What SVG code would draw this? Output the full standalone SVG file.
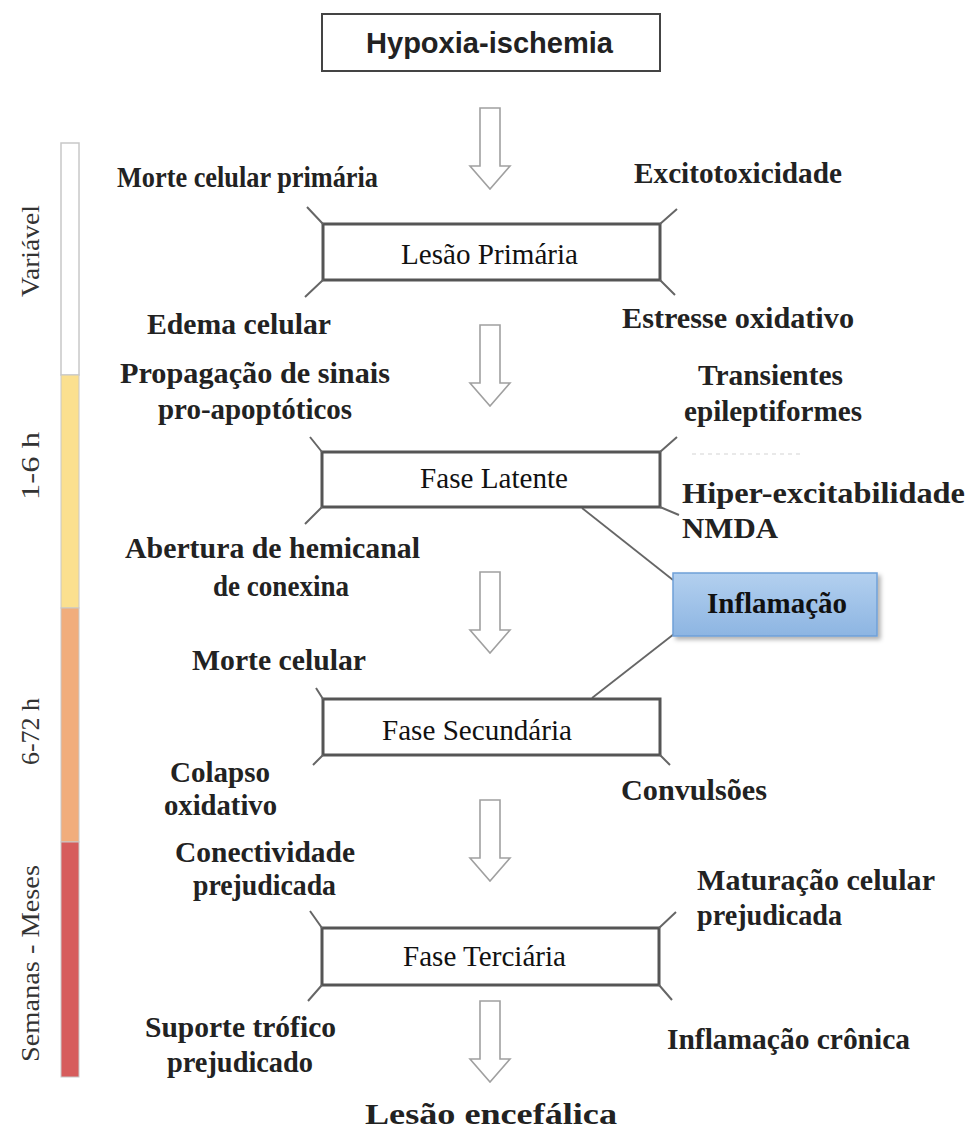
<svg xmlns="http://www.w3.org/2000/svg" width="967" height="1133" viewBox="0 0 967 1133">
<style>
.lbl{font-family:"Liberation Serif","Times New Roman",serif;font-weight:bold;font-size:30px;fill:#222;}
.box{fill:#fff;stroke:#555;stroke-width:3;}
.btxt{font-family:"Liberation Serif","Times New Roman",serif;font-size:30px;fill:#111;}
.tick{stroke:#666;stroke-width:2;fill:none;}
.arr{fill:#fff;stroke:#a0a0a0;stroke-width:1.6;}
.con{stroke:#666;stroke-width:1.8;fill:none;}
.tl{font-family:"Liberation Serif","Times New Roman",serif;font-size:26px;fill:#333;}
</style>
<defs>
<path id="darrow" d="M-10,0 H10 V58 H20 L0,81 L-20,58 H-10 Z"/>
<linearGradient id="blue" x1="0" y1="0" x2="0" y2="1">
<stop offset="0" stop-color="#b3d0ef"/>
<stop offset="1" stop-color="#8db5e2"/>
</linearGradient>
<filter id="sh" x="-10%" y="-10%" width="130%" height="140%">
<feDropShadow dx="3" dy="3" stdDeviation="2" flood-color="#000" flood-opacity="0.3"/>
</filter>
</defs>

<g id="timeline">
<rect x="61" y="143" width="18" height="232" fill="#fff" stroke="#c8c8c8" stroke-width="1.5"/>
<rect x="61" y="375" width="18" height="233" fill="#fbe08f" stroke="#c8c8c8" stroke-width="1"/>
<rect x="61" y="608" width="18" height="234" fill="#f1ad7c" stroke="#c8c8c8" stroke-width="1"/>
<rect x="61" y="842" width="18" height="235" fill="#d65c5c" stroke="#c8c8c8" stroke-width="1"/>
<text class="tl" transform="translate(39,297) rotate(-90)" textLength="92" lengthAdjust="spacingAndGlyphs">Variável</text>
<text class="tl" transform="translate(39,500) rotate(-90)" textLength="68" lengthAdjust="spacingAndGlyphs">1-6 h</text>
<text class="tl" transform="translate(39,765) rotate(-90)" textLength="67" lengthAdjust="spacingAndGlyphs">6-72 h</text>
<text class="tl" transform="translate(39,1062) rotate(-90)" textLength="197" lengthAdjust="spacingAndGlyphs">Semanas - Meses</text>
</g>

<g id="hypoxia">
<rect x="322" y="14" width="338" height="57" fill="#fff" stroke="#444" stroke-width="2"/>
<text x="366" y="53" font-family="Liberation Sans, Arial, sans-serif" font-weight="bold" font-size="29" fill="#222" textLength="247" lengthAdjust="spacingAndGlyphs">Hypoxia-ischemia</text>
</g>

<g id="arrows">
<use href="#darrow" class="arr" x="490" y="108"/>
<use href="#darrow" class="arr" x="490" y="325"/>
<use href="#darrow" class="arr" x="490" y="572"/>
<use href="#darrow" class="arr" x="490" y="800"/>
<use href="#darrow" class="arr" x="490" y="1001"/>
</g>

<g id="connectors">
<line class="con" x1="582" y1="508" x2="673" y2="580"/>
<line class="con" x1="674" y1="634" x2="592" y2="698"/>
<line x1="692" y1="454" x2="803" y2="454" stroke="#e2e2e2" stroke-width="1.5" stroke-dasharray="4,4"/>
</g>

<g id="lesao-primaria">
<rect class="box" x="323" y="224" width="337" height="56"/>
<path class="tick" d="M307,207 L323,224 M305,297 L323,280 M660,224 L677,209 M660,280 L675,295"/>
<text class="btxt" x="401" y="264" textLength="177" lengthAdjust="spacingAndGlyphs">Lesão Primária</text>
</g>

<g id="fase-latente">
<rect class="box" x="322" y="452" width="338" height="55"/>
<path class="tick" d="M310,437 L322,452 M305,524 L322,507 M660,452 L677,437 M660,507 L679,515"/>
<text class="btxt" x="420" y="488" textLength="148" lengthAdjust="spacingAndGlyphs">Fase Latente</text>
</g>

<g id="fase-secundaria">
<rect class="box" x="323" y="699" width="337" height="56"/>
<path class="tick" d="M316,688 L323,699 M313,765 L323,755 M660,755 L670,765"/>
<text class="btxt" x="382" y="740" textLength="190" lengthAdjust="spacingAndGlyphs">Fase Secundária</text>
</g>

<g id="fase-terciaria">
<rect class="box" x="322" y="928" width="337" height="57"/>
<path class="tick" d="M310,911 L322,928 M308,1001 L322,985 M659,928 L676,912 M659,985 L672,1000"/>
<text class="btxt" x="403" y="966" textLength="163" lengthAdjust="spacingAndGlyphs">Fase Terciária</text>
</g>

<g id="inflamacao">
<rect x="673" y="573" width="204" height="63" fill="url(#blue)" stroke="#6fa0d8" stroke-width="1.5" filter="url(#sh)"/>
<text x="707" y="613" font-family="Liberation Serif, Times New Roman, serif" font-weight="bold" font-size="30" fill="#111" textLength="140" lengthAdjust="spacingAndGlyphs">Inflamação</text>
</g>

<g id="labels">
<text class="lbl" x="117" y="187" textLength="261" lengthAdjust="spacingAndGlyphs">Morte celular primária</text>
<text class="lbl" x="634" y="183" textLength="208" lengthAdjust="spacingAndGlyphs">Excitotoxicidade</text>
<text class="lbl" x="147" y="334" textLength="184" lengthAdjust="spacingAndGlyphs">Edema celular</text>
<text class="lbl" x="622" y="328" textLength="232" lengthAdjust="spacingAndGlyphs">Estresse oxidativo</text>
<text class="lbl" x="120" y="383" textLength="270" lengthAdjust="spacingAndGlyphs">Propagação de sinais</text>
<text class="lbl" x="158" y="419" textLength="194" lengthAdjust="spacingAndGlyphs">pro-apoptóticos</text>
<text class="lbl" x="698" y="385" textLength="145" lengthAdjust="spacingAndGlyphs">Transientes</text>
<text class="lbl" x="684" y="421" textLength="178" lengthAdjust="spacingAndGlyphs">epileptiformes</text>
<text class="lbl" x="682" y="503" textLength="283" lengthAdjust="spacingAndGlyphs">Hiper-excitabilidade</text>
<text class="lbl" x="682" y="538" textLength="96" lengthAdjust="spacingAndGlyphs">NMDA</text>
<text class="lbl" x="125" y="558" textLength="295" lengthAdjust="spacingAndGlyphs">Abertura de hemicanal</text>
<text class="lbl" x="213" y="596" textLength="136" lengthAdjust="spacingAndGlyphs">de conexina</text>
<text class="lbl" x="192" y="670" textLength="174" lengthAdjust="spacingAndGlyphs">Morte celular</text>
<text class="lbl" x="170" y="782" textLength="100" lengthAdjust="spacingAndGlyphs">Colapso</text>
<text class="lbl" x="164" y="815" textLength="113" lengthAdjust="spacingAndGlyphs">oxidativo</text>
<text class="lbl" x="621" y="800" textLength="146" lengthAdjust="spacingAndGlyphs">Convulsões</text>
<text class="lbl" x="175" y="862" textLength="180" lengthAdjust="spacingAndGlyphs">Conectividade</text>
<text class="lbl" x="193" y="895" textLength="143" lengthAdjust="spacingAndGlyphs">prejudicada</text>
<text class="lbl" x="697" y="890" textLength="238" lengthAdjust="spacingAndGlyphs">Maturação celular</text>
<text class="lbl" x="697" y="925" textLength="145" lengthAdjust="spacingAndGlyphs">prejudicada</text>
<text class="lbl" x="145" y="1037" textLength="191" lengthAdjust="spacingAndGlyphs">Suporte trófico</text>
<text class="lbl" x="167" y="1072" textLength="146" lengthAdjust="spacingAndGlyphs">prejudicado</text>
<text class="lbl" x="667" y="1049" textLength="243" lengthAdjust="spacingAndGlyphs">Inflamação crônica</text>
<text class="lbl" x="365" y="1124" font-size="33" textLength="252" lengthAdjust="spacingAndGlyphs">Lesão encefálica</text>
</g>
</svg>
